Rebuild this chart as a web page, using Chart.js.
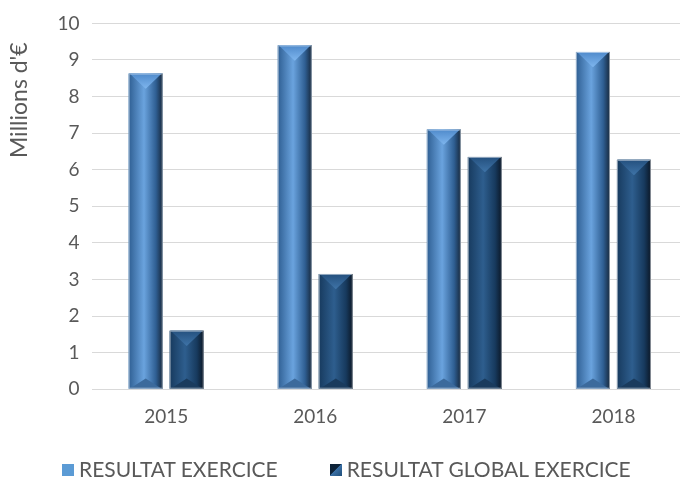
<!DOCTYPE html>
<html>
<head>
<meta charset="utf-8">
<script src="https://cdn.jsdelivr.net/npm/chart.js@4.4.1/dist/chart.umd.min.js"></script>
<style>
  html, body { margin: 0; padding: 0; background: #fff; overflow: hidden; }
  #wrap { position: relative; width: 688px; height: 479px; }
  #legend { position: absolute; left: 62px; top: 457px; display: flex; gap: 52px;
    font-family: Lato, 'Open Sans', sans-serif; font-size: 21px; color: #595959; line-height: 24px; }
  #legend span.sw { display: inline-block; width: 12px; height: 12px; margin-right: 5px; vertical-align: 1px; }
</style>
</head>
<body>
<div id="wrap">
  <div style="position:absolute;left:0;top:0;width:688px;height:479px"><canvas id="c"></canvas></div>
  <div id="legend"></div>
</div>
<script>
const years = ["2015", "2016", "2017", "2018"];
const resultatExercice = [8.63, 9.4, 7.1, 9.22];
const resultatGlobal = [1.6, 3.15, 6.35, 6.27];
const yTitle = "Millions d'€";

const FONT = "Lato, 'Open Sans', sans-serif";

const palettes = [
  { dark: "#2f5f93", mid: "#6aa3de", light: "#4f8acb", edge: "#17283c", top: "#7fb6ee", bottom: "#3c6a9c", swatch: "#5b9bd5" },
  { dark: "#173a5e", mid: "#2e5e8e", light: "#24507e", edge: "#0b1726", top: "#3f74a8", bottom: "#1a3b5d", swatch: "linear-gradient(135deg,#0d2238 0 45%,#3a6fa5 50%,#1f4e79 100%)" }
];

// paints the bevelled "cylinder" look on top of each bar
const bevelBars = {
  id: "bevelBars",
  afterDatasetDraw(chart, args) {
    const ctx = chart.ctx;
    const p = palettes[args.index];
    args.meta.data.forEach((bar) => {
      const { x, y, base, width } = bar.getProps(["x", "y", "base", "width"], true);
      const l = x - width / 2, r = x + width / 2, h = base - y;
      const g = ctx.createLinearGradient(l, 0, r, 0);
      g.addColorStop(0, p.dark);
      g.addColorStop(0.45, p.mid);
      g.addColorStop(0.8, p.dark);
      g.addColorStop(1, p.edge);
      ctx.save();
      ctx.fillStyle = g;
      ctx.fillRect(l, y, width, h);
      const d = Math.min(width * 0.45, h / 2);
      // top cap
      const gt = ctx.createLinearGradient(0, y, 0, y + d);
      gt.addColorStop(0, p.light);
      gt.addColorStop(1, p.top);
      ctx.fillStyle = gt;
      ctx.beginPath();
      ctx.moveTo(l + 1, y);
      ctx.lineTo(r - 1, y);
      ctx.lineTo(x, y + d);
      ctx.closePath();
      ctx.fill();
      // bottom cap
      const db = Math.min(width * 0.3, h / 3);
      ctx.fillStyle = p.bottom;
      ctx.beginPath();
      ctx.moveTo(l + 1, base);
      ctx.lineTo(r - 1, base);
      ctx.lineTo(x, base - db);
      ctx.closePath();
      ctx.fill();
      ctx.strokeStyle = "rgba(255,255,255,0.5)";
      ctx.lineWidth = 1;
      ctx.strokeRect(l + 0.5, y + 0.5, width - 1, h - 1);
      ctx.restore();
    });
  }
};

// y title sits high on the axis in the original, not centred
const highTitle = {
  id: "highTitle",
  afterDraw(chart) {
    const ctx = chart.ctx;
    const yScale = chart.scales.y;
    ctx.save();
    ctx.translate(yScale.left + 14, yScale.getPixelForValue(7.9));
    ctx.rotate(-Math.PI / 2);
    ctx.font = "23px " + FONT;
    ctx.fillStyle = "#595959";
    ctx.textAlign = "center";
    ctx.textBaseline = "middle";
    ctx.fillText(yTitle, 0, 0);
    ctx.restore();
  }
};

const chart = new Chart(document.getElementById("c"), {
  type: "bar",
  data: {
    labels: years,
    datasets: [
      {
        label: "RESULTAT EXERCICE",
        data: resultatExercice,
        backgroundColor: "#5b9bd5",
        categoryPercentage: 0.55,
        barPercentage: 0.83
      },
      {
        label: "RESULTAT GLOBAL EXERCICE",
        data: resultatGlobal,
        backgroundColor: "#1f4e79",
        categoryPercentage: 0.55,
        barPercentage: 0.83
      }
    ]
  },
  options: {
    responsive: true,
    maintainAspectRatio: false,
    animation: false,
    layout: { padding: { top: 17, left: 6, right: 0, bottom: 43 } },
    plugins: {
      tooltip: { enabled: false },
      legend: { display: false }
    },
    scales: {
      x: {
        grid: { display: false },
        border: { display: false },
        ticks: { color: "#595959", font: { family: FONT, size: 19 }, padding: 8 }
      },
      y: {
        min: 0,
        max: 10,
        ticks: { stepSize: 1, color: "#595959", font: { family: FONT, size: 19 }, padding: 12 },
        grid: { color: "#d9d9d9", drawTicks: false },
        border: { display: false },
        title: {
          display: true,
          text: yTitle,
          color: "rgba(0,0,0,0)",
          font: { family: FONT, size: 23 },
          padding: { bottom: 8 }
        }
      }
    }
  },
  plugins: [bevelBars, highTitle]
});

const legendEl = document.getElementById("legend");
chart.data.datasets.forEach((ds, i) => {
  const item = document.createElement("div");
  item.innerHTML = '<span class="sw" style="background:' + palettes[i].swatch + '"></span>' + ds.label;
  legendEl.appendChild(item);
});
</script>
</body>
</html>
